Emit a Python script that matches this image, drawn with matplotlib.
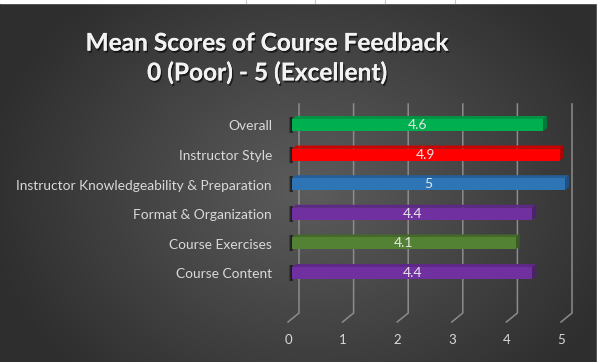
import numpy as np
import matplotlib
matplotlib.use("Agg")
import matplotlib.pyplot as plt
from matplotlib.patches import Polygon, Rectangle
import matplotlib.patheffects as pe

# ---- data ----
categories = ["Course Content", "Course Exercises", "Format & Organization",
              "Instructor Knowledgeability & Preparation", "Instructor Style", "Overall"]
values = [4.4, 4.1, 4.4, 5, 4.9, 4.6]
value_labels = ["4.4", "4.1", "4.4", "5", "4.9", "4.6"]
front_colors = ["#7030a0", "#548235", "#7030a0", "#2e75b6", "#ff0000", "#00b050"]
top_colors = ["#5e2888", "#44692b", "#5e2888", "#25609a", "#d00000", "#009444"]
side_colors = ["#4f2072", "#3a5a24", "#4f2072", "#1f5283", "#b00000", "#007a38"]
xticks = [0, 1, 2, 3, 4, 5]
title = "Mean Scores of Course Feedback\n0 (Poor) - 5 (Excellent)"

W, H = 599, 362
fig = plt.figure(figsize=(W / 100, H / 100), dpi=100)

# background radial gradient
bg = fig.add_axes([0, 0, 1, 1])
yy, xx = np.mgrid[0:H, 0:W]
r = np.sqrt(((xx - 310) / 330.0) ** 2 + ((yy - 190) / 260.0) ** 2)
r = np.clip(r, 0, 1)
c_in = np.array([0x5c, 0x5c, 0x5c]) / 255
c_out = np.array([0x2e, 0x2e, 0x2e]) / 255
img = c_in[None, None, :] * (1 - r[..., None]) + c_out[None, None, :] * r[..., None]
bg.imshow(img, extent=[0, W, H, 0], aspect="auto")
# top white strip from the spreadsheet
bg.add_patch(Rectangle((0, 0), W, 3, color="white"))
for gx in [246, 315, 385, 455]:
    bg.plot([gx, gx], [0, 3], color="#c8c8c8", lw=0.8)
bg.add_patch(Rectangle((597, 0), 2, H, color="white"))
bg.set_xlim(0, W)
bg.set_ylim(H, 0)
bg.axis("off")

# main axes (floor-front plane)
x0p, x1p, ytp, ybp = 288, 561, 104, 322
ax = fig.add_axes([x0p / W, 1 - ybp / H, (x1p - x0p) / W, (ybp - ytp) / H])
ax.set_facecolor("none")
row_px = 29.6
ypos = np.arange(len(categories))
ymin = -(ybp - 273) / row_px
ymax = (len(categories) - 1) + (125 - ytp) / row_px
ax.set_xlim(0, 5)
ax.set_ylim(ymin, ymax)
ax.axis("off")

pxx = (x1p - x0p) / 5.0
pxy = row_px

# gridlines (back plane) with floor diagonal
gdx, gdy = 11 / pxx, 9 / pxy
for t in xticks:
    ax.plot([t + gdx, t + gdx, t], [ymax, ymin + gdy, ymin],
            color="#8c8c8c", lw=1.1, solid_joinstyle="miter", zorder=1, clip_on=False)
    ax.text(t, ymin - 18 / pxy, str(t), ha="center", va="center",
            color="#d9d9d9", fontsize=9.5, family="Lato", zorder=5)

# bars with 3D faces
bx = 4 / pxx
bh = 12 / pxy
ddx, ddy = 4 / pxx, 3 / pxy
for i, (v, lab) in enumerate(zip(values, value_labels)):
    yb = ypos[i] - bh / 2
    yt = ypos[i] + bh / 2
    # shadow on left
    for k, a in enumerate([0.25, 0.35, 0.45]):
        ax.add_patch(Rectangle((bx - (3 - k) / pxx, yb - 2 / pxy), 2 / pxx, bh + 4 / pxy,
                               color="black", alpha=a, lw=0, zorder=2, clip_on=False))
    ax.add_patch(Polygon([(bx, yt), (bx + v, yt), (bx + v + ddx, yt + ddy), (bx + ddx, yt + ddy)],
                         closed=True, color=top_colors[i], lw=0, zorder=3, clip_on=False))
    ax.add_patch(Polygon([(bx + v, yb), (bx + v, yt), (bx + v + ddx, yt + ddy), (bx + v + ddx, yb + ddy)],
                         closed=True, color=side_colors[i], lw=0, zorder=3, clip_on=False))
    bars = ax.barh(ypos[i], v, left=bx, height=bh, color=front_colors[i], lw=0, zorder=4)
    for b in bars:
        b.set_clip_on(False)
    ax.text(bx + v / 2, ypos[i], lab, ha="center", va="center", color="#e6e6e6",
            fontsize=10, family="Lato", zorder=6)
    ax.text(-16 / pxx, ypos[i] - 1.5 / pxy, categories[i], ha="right", va="center",
            color="#d9d9d9", fontsize=9.9, family="Lato", zorder=6)

fig.text(267 / W, 1 - 58 / H, title, ha="center", va="center", color="#f2f2f2",
         fontsize=17.6, family="Lato", fontweight="bold", linespacing=1.32,
         path_effects=[pe.withSimplePatchShadow(offset=(1, -1.5), shadow_rgbFace="black", alpha=0.6),
                       pe.Normal()])

fig.savefig("out.png", dpi=100)
